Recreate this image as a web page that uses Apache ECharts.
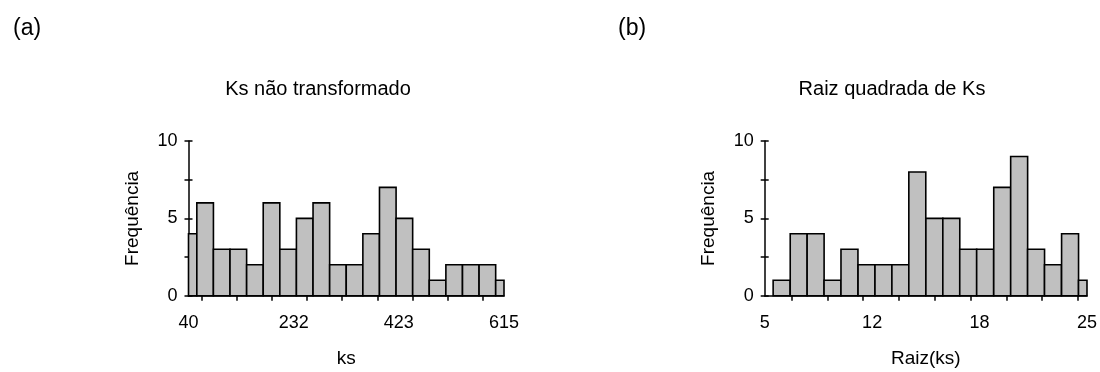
<!DOCTYPE html>
<html>
<head>
<meta charset="utf-8">
<script src="https://cdn.jsdelivr.net/npm/echarts@6/dist/echarts.min.js"></script>
<style>
  html, body { margin: 0; padding: 0; background: #ffffff; }
  #chart { width: 1100px; height: 372px; }
</style>
</head>
<body>
<div id="chart"></div>
<script>
// ---- Data ----
const panelLabels = ['(a)', '(b)'];
const titles = ['Ks não transformado', 'Raiz quadrada de Ks'];
const xNames = ['ks', 'Raiz(ks)'];
const yName = 'Frequência';

// Panel (a): histogram of ks, bin centres and counts
const ksRange = [40, 615];
const ksBinWidth = 30.26;
const ksBinCenters = [40, 70.3, 100.5, 130.8, 161.1, 191.3, 221.6, 251.8, 282.1, 312.4,
                      342.6, 372.9, 403.2, 433.4, 463.7, 493.9, 524.2, 554.5, 584.7, 615];
const ksCounts = [4, 6, 3, 3, 2, 6, 3, 5, 6, 2, 2, 4, 7, 5, 3, 1, 2, 2, 2, 1];
const ksLabelValues = [40, 231.67, 423.33, 615];
const ksTickValues = [64, 128, 192, 256, 320, 384, 448, 512, 576];

// Panel (b): histogram of sqrt(ks)
const raizRange = [5, 25];
const raizBinWidth = 1.0526;
const raizBinCenters = [5, 6.05, 7.11, 8.16, 9.21, 10.26, 11.32, 12.37, 13.42, 14.47,
                        15.53, 16.58, 17.63, 18.68, 19.74, 20.79, 21.84, 22.89, 23.95, 25];
const raizCounts = [0, 1, 4, 4, 1, 3, 2, 2, 2, 8, 5, 5, 3, 3, 7, 9, 3, 2, 4, 1];
const raizLabelValues = [5, 11.667, 18.333, 25];
const raizTickValues = [6.667, 8.889, 11.111, 13.333, 15.556, 17.778, 20, 22.222, 24.444];

const yRange = [0, 10];
const yTickInterval = 2.5;
const yLabelValues = [0, 5, 10];

// ---- Chart ----
const FONT = '"Liberation Sans", Arial, sans-serif';
const FS = 18;
const FS_TITLE = 20;
const FS_NAME = 19;

function histData(centers, counts, width) {
  return centers.map((c, i) => [c, counts[i], width]);
}

function makeRender(range) {
  return function (params, api) {
    const c = api.value(0), v = api.value(1), w = api.value(2);
    if (!v) return null;
    const x0 = Math.max(range[0], c - w / 2);
    const x1 = Math.min(range[1], c + w / 2);
    const p0 = api.coord([x0, 0]);
    const p1 = api.coord([x1, v]);
    return {
      type: 'rect',
      shape: { x: p0[0], y: p1[1], width: p1[0] - p0[0], height: p0[1] - p1[1] },
      style: { fill: '#c0c0c0', stroke: '#000000', lineWidth: 1.6 }
    };
  };
}

function xAxisDef(gridIndex, range, labelVals, tickVals, name) {
  return {
    type: 'value', gridIndex: gridIndex, min: range[0], max: range[1],
    name: name, nameLocation: 'middle', nameGap: 54,
    nameTextStyle: { fontFamily: FONT, fontSize: FS_NAME, color: '#000' },
    splitLine: { show: false },
    axisLine: { show: true, onZero: false, lineStyle: { color: '#000', width: 1.5 } },
    axisTick: { show: true, customValues: tickVals, length: 5, lineStyle: { color: '#000', width: 1.5 } },
    axisLabel: { customValues: labelVals, margin: 18, fontFamily: FONT, fontSize: FS, color: '#000',
                 formatter: v => String(Math.round(v)) }
  };
}

function yAxisDefs(gridIndex) {
  return [{
    type: 'value', gridIndex: gridIndex, position: 'left', min: yRange[0], max: yRange[1], interval: yTickInterval,
    name: yName, nameLocation: 'middle', nameGap: 46, nameRotate: 90,
    nameTextStyle: { fontFamily: FONT, fontSize: FS_NAME, color: '#000' },
    splitLine: { show: false },
    axisLine: { show: true, lineStyle: { color: '#000', width: 1.5 } },
    axisTick: { show: true, length: 4, lineStyle: { color: '#000', width: 1.5 } },
    axisLabel: { customValues: yLabelValues, margin: 11, fontFamily: FONT, fontSize: FS, color: '#000' }
  }, {
    type: 'value', gridIndex: gridIndex, position: 'left', offset: 0, min: yRange[0], max: yRange[1], interval: yTickInterval,
    splitLine: { show: false },
    axisLine: { show: false },
    axisTick: { show: true, inside: true, length: 4, lineStyle: { color: '#000', width: 1.5 } },
    axisLabel: { show: false }
  }];
}

const chart = echarts.init(document.getElementById('chart'), null, { renderer: 'canvas' });
const ya = yAxisDefs(0), yb = yAxisDefs(1);

chart.setOption({
  animation: false,
  backgroundColor: '#ffffff',
  textStyle: { fontFamily: FONT },
  title: [
    { text: panelLabels[0], left: 8, top: 12, textStyle: { fontFamily: FONT, fontSize: 23, fontWeight: 'normal', color: '#000' } },
    { text: panelLabels[1], left: 613, top: 12, textStyle: { fontFamily: FONT, fontSize: 23, fontWeight: 'normal', color: '#000' } },
    { text: titles[0], left: 313, textAlign: 'center', top: 74, textStyle: { fontFamily: FONT, fontSize: FS_TITLE, fontWeight: 'normal', color: '#000' } },
    { text: titles[1], left: 887, textAlign: 'center', top: 74, textStyle: { fontFamily: FONT, fontSize: FS_TITLE, fontWeight: 'normal', color: '#000' } }
  ],
  grid: [
    { left: 188.5, width: 315.5, top: 141, height: 154.7 },
    { left: 764.7, width: 324.4, top: 141, height: 154.7 }
  ],
  xAxis: [
    xAxisDef(0, ksRange, ksLabelValues, ksTickValues, xNames[0]),
    xAxisDef(1, raizRange, raizLabelValues, raizTickValues, xNames[1])
  ],
  yAxis: [ya[0], ya[1], yb[0], yb[1]],
  series: [
    { type: 'custom', xAxisIndex: 0, yAxisIndex: 0, renderItem: makeRender(ksRange),
      encode: { x: 0, y: 1 }, data: histData(ksBinCenters, ksCounts, ksBinWidth), clip: false, z: 1 },
    { type: 'custom', xAxisIndex: 1, yAxisIndex: 2, renderItem: makeRender(raizRange),
      encode: { x: 0, y: 1 }, data: histData(raizBinCenters, raizCounts, raizBinWidth), clip: false, z: 1 }
  ]
});
</script>
</body>
</html>
